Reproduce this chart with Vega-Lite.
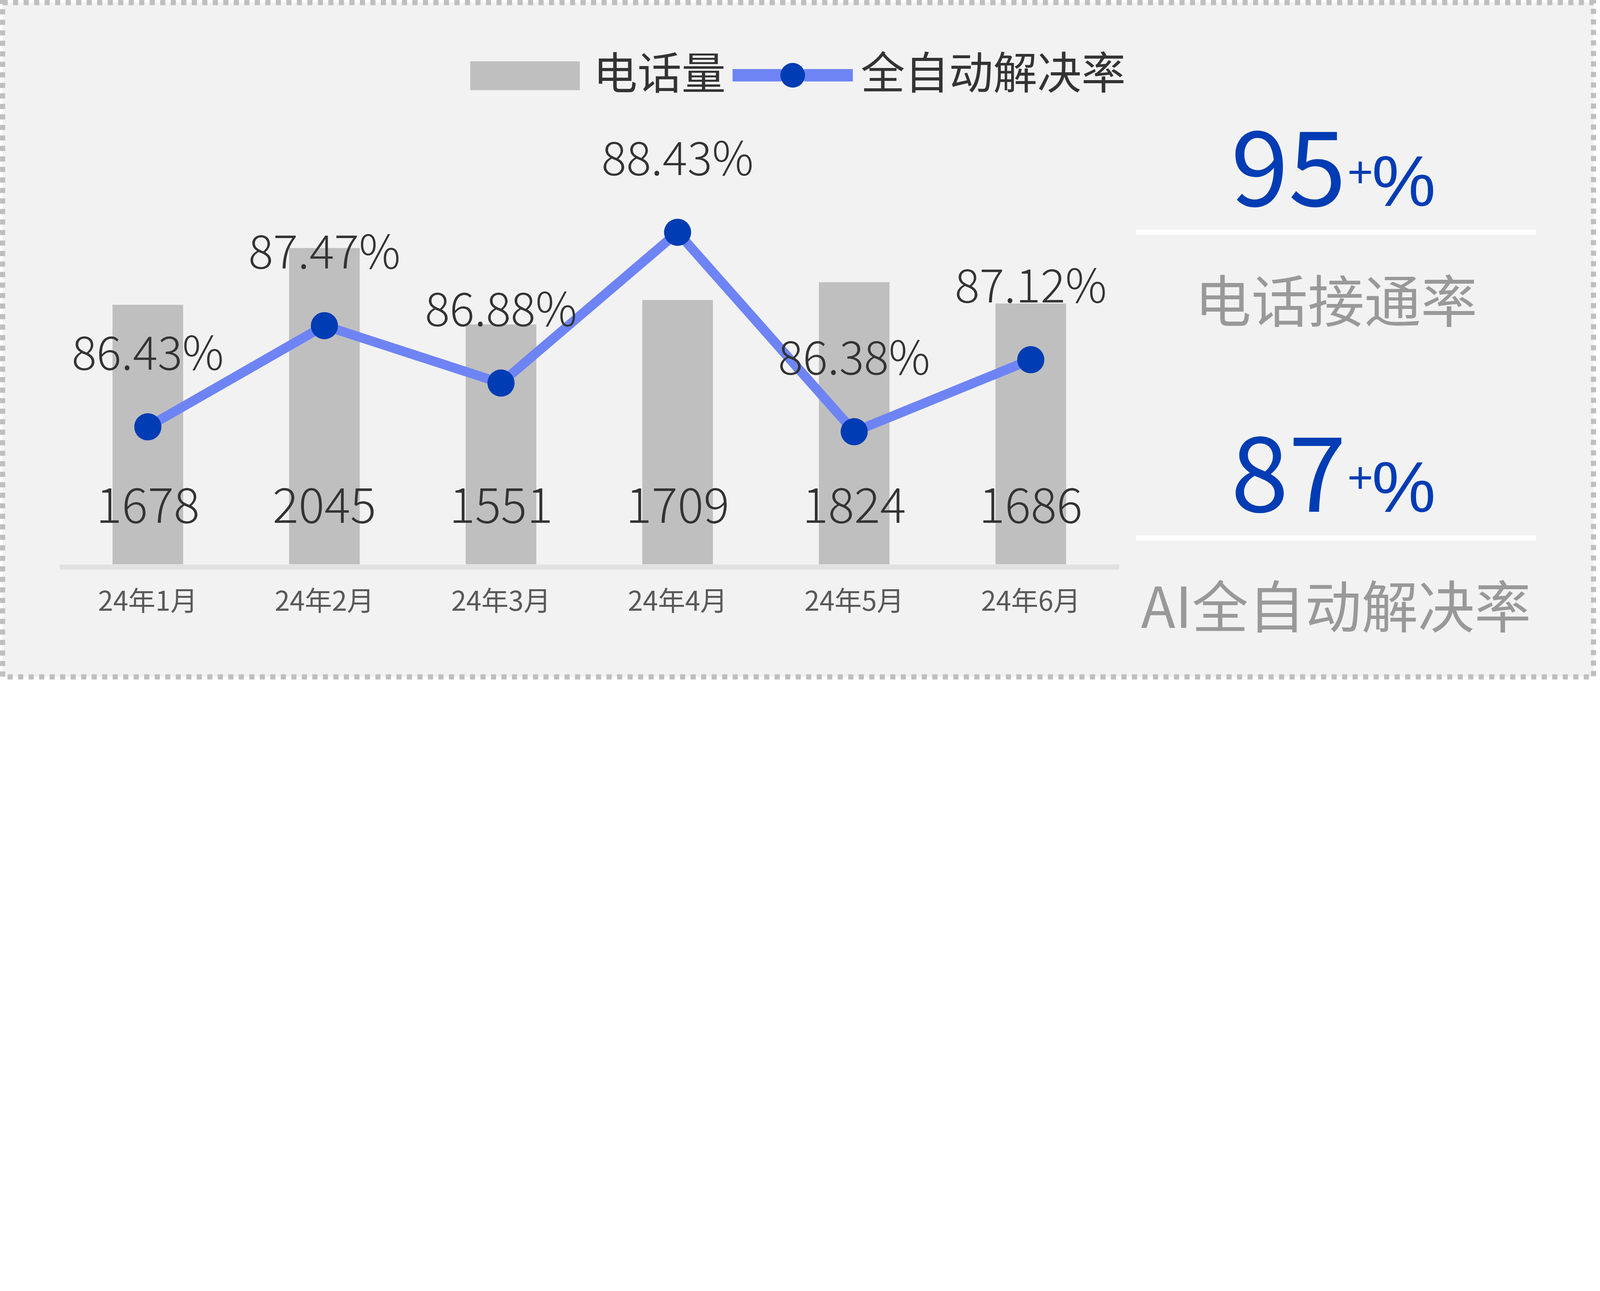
{
  "$schema": "https://vega.github.io/schema/vega-lite/v6.json",
  "width": 4072.8,
  "height": 1725.8,
  "autosize": {"type": "none"},
  "padding": 6.6,
  "background": "#FFFFFF",
  "datasets": {
    "main": [
      {"month": "24年1月", "calls": 1678, "rate": 0.8643},
      {"month": "24年2月", "calls": 2045, "rate": 0.8747},
      {"month": "24年3月", "calls": 1551, "rate": 0.8688},
      {"month": "24年4月", "calls": 1709, "rate": 0.8843},
      {"month": "24年5月", "calls": 1824, "rate": 0.8638},
      {"month": "24年6月", "calls": 1686, "rate": 0.8712}
    ],
    "kpi": [
      {"kpi": "电话接通率", "value": 95},
      {"kpi": "AI全自动解决率", "value": 87}
    ]
  },
  "config": {
    "view": {"fill": "#F2F2F2", "stroke": "#BFBFBF", "strokeWidth": 13.2, "strokeDash": [13.2, 13.7]},
    "legend": {"padding": 0, "offset": 0}
  },
  "layer": [
    {
      "data": {"name": "main"},
      "encoding": {
        "x": {
          "field": "month",
          "type": "ordinal",
          "sort": null,
          "scale": {"range": [145.8, 2858.2], "paddingInner": 0.6, "paddingOuter": 0.3},
          "axis": {
            "title": null,
            "labelAngle": 0,
            "labelFont": "Noto Sans CJK SC",
            "labelFontSize": 69.5,
            "labelColor": "#595959",
            "labelPadding": 56.2,
            "labelLimit": 2000,
            "ticks": false,
            "tickSize": 0,
            "grid": false,
            "domainColor": "#E1E1E1",
            "domainWidth": 13.2,
            "offset": -281.5
          }
        }
      },
      "layer": [
        {
          "layer": [
            {
              "mark": {"type": "bar"},
              "encoding": {
                "y": {
                  "field": "calls",
                  "type": "quantitative",
                  "scale": {"domain": [0, 2500], "range": [1437.5, 448.1], "nice": false},
                  "axis": null
                },
                "fill": {
                  "datum": "电话量",
                  "type": "nominal",
                  "scale": {"range": ["#BFBFBF"]},
                  "legend": {
                    "orient": "none",
                    "legendX": 1197,
                    "legendY": 46.8,
                    "title": null,
                    "symbolType": "M-1,-0.2625H1V0.2625H-1Z",
                    "symbolSize": 78680,
                    "symbolStrokeWidth": 0,
                    "labelFont": "Noto Sans CJK SC",
                    "labelFontSize": 113,
                    "labelColor": "#333333",
                    "labelOffset": 34.2,
                    "labelLimit": 3000,
                    "padding": 0
                  }
                }
              }
            },
            {
              "mark": {
                "type": "text",
                "align": "center",
                "baseline": "alphabetic",
                "dy": -105.8,
                "font": "Noto Sans CJK SC",
                "fontWeight": 300,
                "fontSize": 124,
                "color": "#333333"
              },
              "encoding": {
                "y": {"datum": 0, "type": "quantitative"},
                "text": {"field": "calls", "type": "quantitative"}
              }
            }
          ]
        },
        {
          "layer": [
            {
              "mark": {"type": "line", "strokeWidth": 24.2, "strokeJoin": "round"},
              "encoding": {
                "y": {
                  "field": "rate",
                  "type": "quantitative",
                  "scale": {"domain": [0.85, 0.89], "range": [1441.7, 446], "nice": false, "zero": false},
                  "axis": null
                },
                "stroke": {
                  "datum": "全自动解决率",
                  "type": "nominal",
                  "scale": {"range": ["#6E84F4"]},
                  "legend": {
                    "orient": "none",
                    "legendX": 1852.7,
                    "legendY": 16,
                    "title": null,
                    "symbolType": "M-1,0H-0.188M0.188,0H1",
                    "symbolSize": 94800,
                    "symbolStrokeWidth": 31.6,
                    "labelFont": "Noto Sans CJK SC",
                    "labelFontSize": 113,
                    "labelColor": "#333333",
                    "labelOffset": 4.2,
                    "labelLimit": 3000,
                    "padding": 0
                  }
                }
              }
            },
            {
              "mark": {"type": "point", "filled": true, "opacity": 1, "color": "#003CB4", "size": 4830, "strokeWidth": 0},
              "encoding": {
                "y": {"field": "rate", "type": "quantitative"},
                "shape": {
                  "datum": "dot",
                  "type": "nominal",
                  "scale": {"range": ["circle"]},
                  "legend": {
                    "orient": "none",
                    "legendX": 1990.7,
                    "legendY": 154,
                    "title": null,
                    "symbolSize": 3988,
                    "symbolStrokeWidth": 0,
                    "symbolFillColor": "#003CB4",
                    "symbolOpacity": 1,
                    "labelExpr": "''",
                    "labelFontSize": 1,
                    "padding": 0
                  }
                }
              }
            },
            {
              "mark": {
                "type": "text",
                "align": "center",
                "baseline": "alphabetic",
                "dy": -146.3,
                "font": "Noto Sans CJK SC",
                "fontWeight": 300,
                "fontSize": 118.4,
                "color": "#333333"
              },
              "encoding": {
                "y": {"field": "rate", "type": "quantitative"},
                "text": {"field": "rate", "type": "quantitative", "format": ".2%"}
              }
            }
          ]
        }
      ],
      "resolve": {"scale": {"y": "independent"}}
    },
    {
      "data": {"name": "kpi"},
      "encoding": {
        "y": {
          "field": "kpi",
          "type": "nominal",
          "sort": null,
          "scale": {"type": "point", "range": [588.1, 1370.6], "padding": 0},
          "axis": null
        }
      },
      "layer": [
        {
          "mark": {"type": "rule", "color": "#FFFFFF", "strokeWidth": 13.2, "strokeCap": "butt"},
          "encoding": {
            "x": {"datum": 0, "type": "quantitative", "scale": {"domain": [0, 1], "range": [2902.1, 3925.2]}, "axis": null},
            "x2": {"datum": 1}
          }
        },
        {
          "mark": {
            "type": "text",
            "align": "right",
            "baseline": "alphabetic",
            "dx": 26,
            "dy": -67.4,
            "font": "Noto Sans CJK SC",
            "fontSize": 266,
            "color": "#003CB4"
          },
          "encoding": {
            "x": {"datum": 0.5, "type": "quantitative"},
            "text": {"field": "value", "type": "quantitative"}
          }
        },
        {
          "mark": {
            "type": "text",
            "align": "left",
            "baseline": "alphabetic",
            "dx": 28.9,
            "dy": -115.8,
            "font": "Liberation Sans",
            "fontSize": 113,
            "color": "#003CB4"
          },
          "encoding": {
            "x": {"datum": 0.5, "type": "quantitative"},
            "text": {"value": "+"}
          }
        },
        {
          "mark": {
            "type": "text",
            "align": "left",
            "baseline": "alphabetic",
            "dx": 91.6,
            "dy": -67.4,
            "font": "Liberation Sans",
            "fontSize": 184,
            "color": "#003CB4"
          },
          "encoding": {
            "x": {"datum": 0.5, "type": "quantitative"},
            "text": {"value": "%"}
          }
        },
        {
          "mark": {
            "type": "text",
            "align": "center",
            "baseline": "alphabetic",
            "dy": 230,
            "font": "Noto Sans CJK SC",
            "fontSize": 144.7,
            "color": "#999999"
          },
          "encoding": {
            "x": {"datum": 0.5, "type": "quantitative"},
            "text": {"field": "kpi", "type": "nominal"}
          }
        }
      ]
    }
  ],
  "resolve": {"scale": {"x": "independent", "y": "independent"}}
}
